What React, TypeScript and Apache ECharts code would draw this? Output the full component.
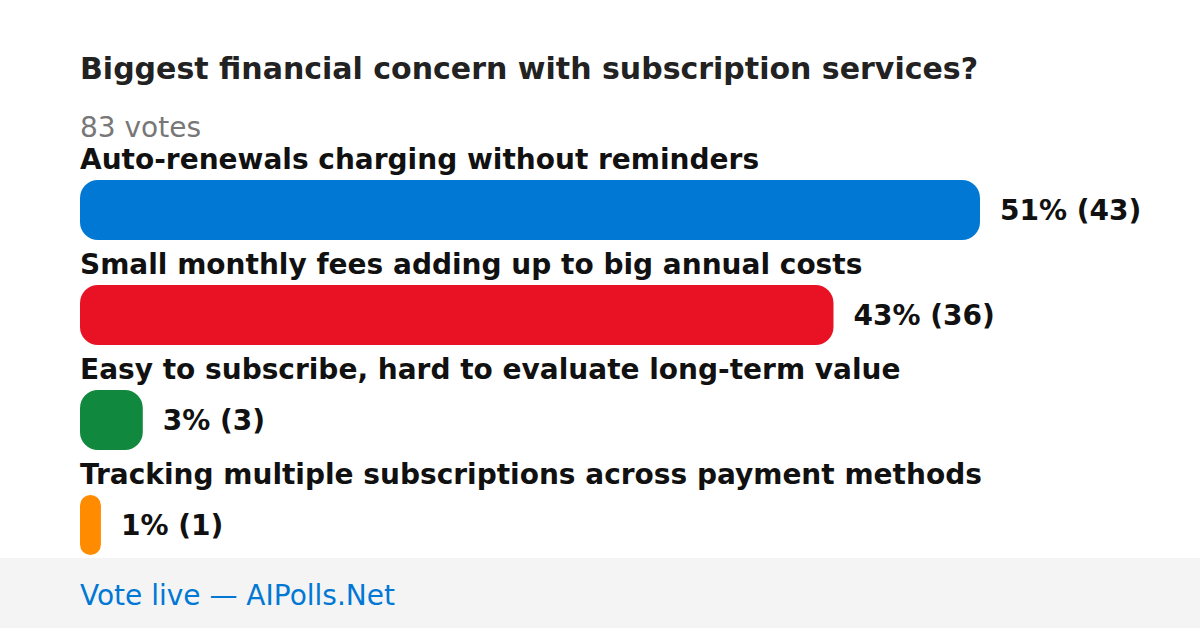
import React, { useEffect, useRef } from "react";
import * as echarts from "echarts";

const titleText = "Biggest financial concern with subscription services?";
const votesText = "83 votes";
const footerText = "Vote live — AIPolls.Net";
const categories = [
  "Auto-renewals charging without reminders",
  "Small monthly fees adding up to big annual costs",
  "Easy to subscribe, hard to evaluate long-term value",
  "Tracking multiple subscriptions across payment methods",
];
const counts = [43, 36, 3, 1];
const percents = [51, 43, 3, 1];
const colors = ["#0078d4", "#e81224", "#10893e", "#ff8c00"];

const FONT = "DejaVu Sans";

export default function App() {
  const ref = useRef<HTMLDivElement>(null);
  useEffect(() => {
    if (!ref.current) return;
    const chart = echarts.init(ref.current, undefined, { renderer: "svg" });
    chart.setOption({
      animation: false,
      backgroundColor: "#ffffff",
      title: [
        {
          text: titleText,
          left: 80,
          top: 53,
          padding: 0,
          textStyle: { fontFamily: FONT, fontSize: 30, fontWeight: "bold", color: "#222222", lineHeight: 30 },
        },
        {
          text: votesText,
          left: 80,
          top: 113,
          padding: 0,
          textStyle: { fontFamily: FONT, fontSize: 28, fontWeight: "normal", color: "#777777", lineHeight: 28 },
        },
      ],
      graphic: [
        {
          type: "rect",
          left: 0,
          top: 558,
          shape: { width: 1200, height: 70 },
          style: { fill: "#f4f4f4" },
          z: -1,
        },
        {
          type: "text",
          left: 80,
          top: 581,
          style: { text: footerText, fontFamily: FONT, fontSize: 28, fill: "#0078d4" },
        },
      ],
      grid: { left: 80, width: 900, top: 157.5, height: 420, containLabel: false },
      xAxis: {
        type: "value",
        min: 0,
        max: 43,
        show: false,
      },
      yAxis: {
        type: "category",
        data: categories,
        inverse: true,
        show: false,
      },
      series: [
        {
          type: "bar",
          barWidth: 60,
          barGap: "-100%",
          data: counts.map((v, i) => ({
            value: v,
            itemStyle: { color: colors[i], borderRadius: 18 },
          })),
          label: {
            show: true,
            position: [0, -21],
            align: "left",
            verticalAlign: "middle",
            fontFamily: FONT,
            fontSize: 28,
            fontWeight: "bold",
            color: "#111111",
            formatter: (p: any) => categories[p.dataIndex],
          },
        },
        {
          type: "bar",
          barWidth: 60,
          barGap: "-100%",
          silent: true,
          data: counts.map((v) => ({
            value: v,
            itemStyle: { color: "rgba(0,0,0,0)" },
          })),
          label: {
            show: true,
            position: "right",
            distance: 20,
            fontFamily: FONT,
            fontSize: 28,
            fontWeight: "bold",
            color: "#111111",
            formatter: (p: any) => `${percents[p.dataIndex]}% (${counts[p.dataIndex]})`,
          },
        },
      ],
    });
    return () => chart.dispose();
  }, []);
  return (
    <div
      ref={ref}
      style={{ position: "fixed", left: 0, top: 0, width: 1200, height: 628 }}
    />
  );
}
